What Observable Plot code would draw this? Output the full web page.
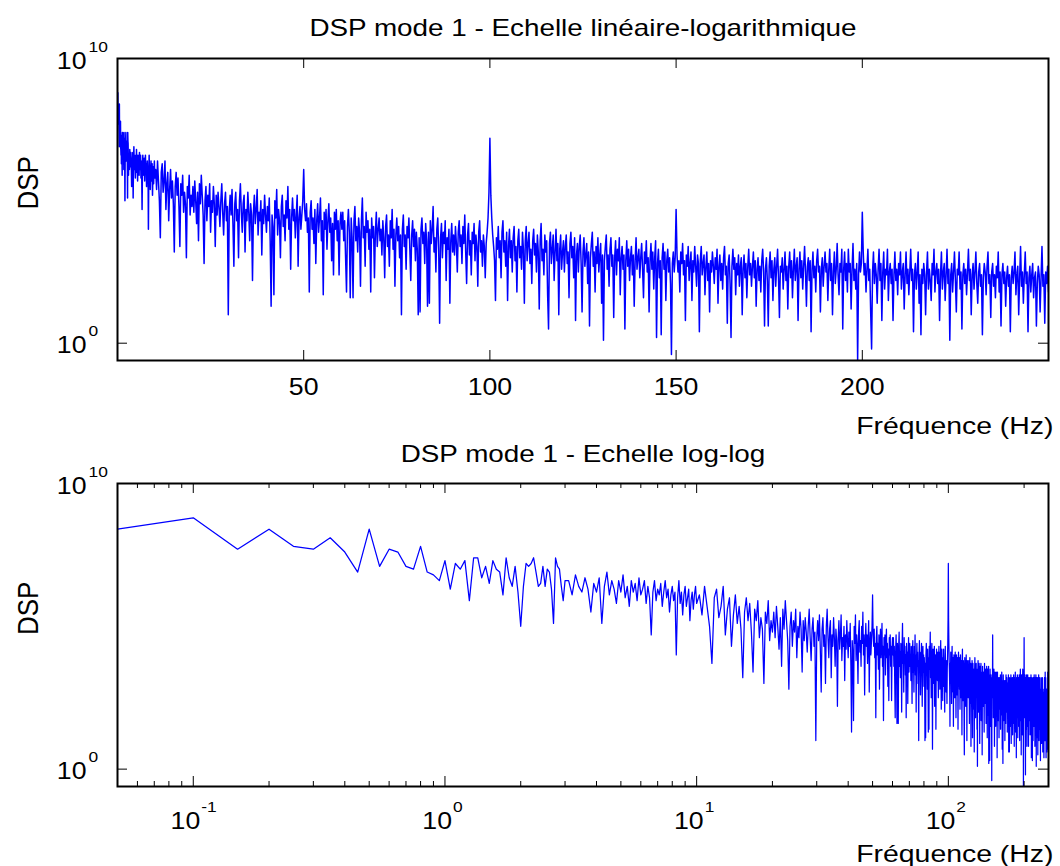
<!DOCTYPE html>
<html>
<head>
<meta charset="utf-8">
<script src="https://cdn.jsdelivr.net/npm/d3@7"></script>
<script src="https://cdn.jsdelivr.net/npm/@observablehq/plot@0.6"></script>
<style>
  html, body { margin: 0; padding: 0; background: #fff; }
  #wrap { width: 1060px; height: 866px; overflow: hidden; }
  #wrap svg { display: block; }
</style>
</head>
<body>
<div id="wrap"></div>
<script>
// ---------------- DATA ----------------
// DSP values are stored as 10*log10(DSP) (tenths of a decade).
// Segment A: 0.05 .. 3.00 Hz, step 0.05 Hz
const segA_f0 = 0.05, segA_df = 0.05;
const segA_dsp = [
  84, 88, 77, 84, 78, 77, 81, 76, 69, 84, 71, 77, 76, 71, 70, 78, 69, 68, 66, 73,
  63, 72, 70, 73, 59, 74, 74, 67, 71, 65, 73, 70, 69, 61, 74, 67, 64, 71, 62, 50,
  64, 72, 71, 72, 74, 69, 64, 65, 71, 64, 70, 69, 63, 51, 74, 71, 70, 64, 59, 66
];
// Segment B: 3.1 .. 10.0 Hz, step 0.1 Hz
const segB_f0 = 3.1, segB_df = 0.1;
const segB_dsp = [
  66, 61, 68, 64, 62, 67, 63, 55, 65, 62, 67, 51, 64, 69, 61, 66, 63, 58, 66, 62,
  68, 60, 64, 57, 66, 62, 65, 59, 67, 61, 63, 66, 58, 64, 60, 47, 62, 66, 59, 63,
  61, 65, 57, 62, 66, 60, 63, 55, 61, 64, 59, 62, 40, 60, 66, 58, 62, 54, 61, 64,
  57, 60, 63, 52, 59, 62, 56, 61, 64, 58
];
// Segment C: 10.25 .. 250 Hz, step 0.25 Hz (one row = 10 Hz)
const segC_f0 = 10.25, segC_df = 0.25;
const segC_dsp = [
  61,54,64,57,50,37,60,63,53,57,64,47,56,60,43,54,61,51,57,49,32,55,60,52,58,48,34,56,52,59,46,53,49,30,55,51,59,45,52,48,
  55,46,57,50,42,53,36,56,49,59,52,45,28,50,55,43,52,48,56,39,50,46,55,49,34,52,45,53,48,41,50,56,46,38,49,53,43,48,10,46,
  52,45,54,42,27,49,53,43,47,30,50,56,46,39,49,52,32,47,43,53,46,36,49,45,22,46,52,42,47,54,38,46,43,50,31,47,42,52,45,39,
  48,43,51,36,13,45,41,17,50,44,54,38,47,43,30,48,52,41,45,36,50,44,55,40,47,26,44,51,43,47,37,45,52,27,44,48,40,45,50,61,
  47,43,49,39,44,18,46,50,40,44,35,47,28,43,49,39,44,51,36,43,17,46,40,47,33,43,49,39,44,29,42,24,46,40,47,36,43,24,42,46,
  40,46,36,43,30,18,41,47,39,16,44,37,16,43,48,36,41,32,44,39,20,43,51,37,41,27,46,39,43,33,40,18,44,37,41,23,39,46,34,40,
  44,36,40,31,43,37,23,41,45,34,38,27,43,37,47,33,40,20,38,44,36,41,30,38,10,40,45,34,38,26,41,37,44,33,22,38,43,34,40,29,
  39,33,10,37,11,40,44,35,39,28,42,36,13,39,14,43,35,40,48,32,37,25,40,44,33,7,37,42,30,39,35,43,22,37,33,40,14,36,42,32,
  38,31,41,35,25,39,43,34,38,28,41,35,45,32,21,38,42,31,36,24,39,35,42,29,38,34,20,39,43,32,36,27,38,34,23,35,39,44,53,72,
  52,44,38,34,29,15,37,33,41,30,36,23,39,43,32,36,27,39,15,34,40,30,36,25,37,41,29,34,18,36,40,30,34,26,39,33,14,36,41,29,
  35,39,28,33,21,36,40,31,35,25,38,32,12,36,42,29,33,24,38,32,36,17,5,35,39,28,33,38,22,32,40,29,35,10,33,38,26,32,36,25,
  34,38,28,32,16,35,39,30,34,23,37,8,31,35,25,34,38,28,11,32,37,27,31,35,21,32,6,30,35,39,27,32,18,34,28,37,25,31,35,14,
  31,1,29,34,38,26,31,20,33,37,27,31,9,30,36,24,33,29,37,17,30,34,26,31,5,29,36,27,33,22,30,34,24,31,13,29,37,26,30,33,
  23,30,35,26,16,32,28,36,25,30,11,29,35,26,32,19,30,36,2,28,33,23,29,3,30,35,26,32,15,29,33,25,30,21,-4,28,32,25,30,47,
  31,25,29,18,32,28,35,24,29,8,31,27,34,22,28,32,15,29,25,34,27,20,31,28,4,29,34,24,28,31,17,27,32,22,28,11,29,25,32,27,
  21,30,26,33,14,27,31,22,28,19,30,34,24,27,7,28,31,21,2,27,33,26,30,17,28,24,31,20,27,30,10,26,31,23,28,16,27,33,24,28,
  20,27,32,23,29,13,26,30,22,27,18,29,33,25,6,26,30,22,6,27,32,23,29,15,26,30,20,27,33,23,9,27,25,30,19,26,32,22,27,12,
  27,32,23,29,16,26,33,22,27,30,8,26,32,23,29,19,27,34,25,13,27,30,22,29,4,26,32,23,27,18,29,33,25,27,11,26,30,20,27,32,
  25,28,15,26,33,22,28,10,25,32,21,26,35,24,17,28,25,33,5,26,32,22,28,18,33,25,28,12,26,35,22,26,19,28,-6,24,32,25,28,46,
  32,24,28,18,26,33,22,26,11,-2,25,32,21,28,24,14,26,33,22,28,8,25,32,19,26,24,33,15,25,28,21,26,8,24,32,22,26,17,28,24,
  32,19,25,28,12,24,32,21,26,17,25,33,22,26,4,24,28,19,25,32,14,24,3,26,21,28,24,10,25,32,19,26,22,15,28,24,33,18,25,28,
  21,26,8,24,32,19,25,28,15,24,33,21,26,1,24,28,18,25,32,22,11,26,24,32,19,25,5,24,28,21,26,17,25,33,22,26,10,24,28,19,
  25,32,21,14,25,28,20,24,3,23,28,25,17,27,32,21,24,9,25,28,20,24,16,27,23,32,18,25,6,24,28,21,25,13,23,27,20,24,4,23,
  27,21,25,32,17,24,27,10,23,34,20,25,14,24,32,21,25,4,23,27,18,24,28,16,23,25,6,21,27,24,11,23,34,20,24,7,25,21,27,18
];

// Axes / ticks / texts
const title1 = "DSP mode 1 - Echelle linéaire-logarithmique";
const title2 = "DSP mode 1 - Echelle log-log";
const xLabel = "Fréquence (Hz)";
const yLabel = "DSP";
const linXTicks = [50, 100, 150, 200];
const logXTickExps = [-1, 0, 1, 2];
const logXMinorTicks = [0.06, 0.07, 0.08, 0.09, 0.2, 0.3, 0.4, 0.5, 0.6, 0.7, 0.8, 0.9,
  2, 3, 4, 5, 6, 7, 8, 9, 20, 30, 40, 50, 60, 70, 80, 90, 200];
const yTickExps = [0, 10];
const yMin = 0.2466, yMax = 1e10;

// ---------------- BUILD TABLE ----------------
const data = [];
function addSeg(f0, df, arr) {
  arr.forEach((v, i) => data.push({f: f0 + i * df, dsp: Math.pow(10, v / 10)}));
}
addSeg(segA_f0, segA_df, segA_dsp);
addSeg(segB_f0, segB_df, segB_dsp);
addSeg(segC_f0, segC_df, segC_dsp);

const FONT = "'Liberation Sans', Arial, Helvetica, sans-serif";
const W = 1060, ML = 117, MR = 12;
const FW = W - ML - MR;
const BLUE = "#0000ff";

function yTickMarks(fh) {
  const yt = yTickExps.map(e => Math.pow(10, e));
  return [
    Plot.tickY(yt, {y: d => d, insetRight: FW - 10, stroke: "black", strokeWidth: 1}),
    Plot.tickY(yt, {y: d => d, insetLeft: FW - 10, stroke: "black", strokeWidth: 1}),
    Plot.text(yTickExps, {y: e => Math.pow(10, e), text: () => "10", frameAnchor: "left", dx: -31, dy: 10,
      textAnchor: "end", lineAnchor: "bottom", fontSize: 23, fontFamily: FONT, fill: "black"}),
    Plot.text(yTickExps, {y: e => Math.pow(10, e), text: e => String(e), frameAnchor: "left", dx: -29, dy: -7,
      textAnchor: "start", lineAnchor: "bottom", fontSize: 15, fontFamily: FONT, fill: "black"})
  ];
}

function labelMarks(title, titleDy, xlabDy) {
  return [
    Plot.text([title], {text: d => d, frameAnchor: "top", dy: titleDy, lineAnchor: "bottom",
      fontSize: 24, fontFamily: FONT, fill: "black"}),
    Plot.text([xLabel], {text: d => d, frameAnchor: "bottom-right", dx: 5, dy: xlabDy, textAnchor: "end",
      lineAnchor: "bottom", fontSize: 24.5, fontFamily: FONT, fill: "black"}),
    Plot.text([yLabel], {text: d => d, frameAnchor: "left", dx: -81, rotate: -90, lineAnchor: "bottom",
      fontSize: 26, fontFamily: FONT, fill: "black"})
  ];
}

// ---------- Panel 1 : linear x, log y ----------
const H1 = 440, MT1 = 58, MB1 = 80, FH1 = H1 - MT1 - MB1;
const chart1 = Plot.plot({
  width: W, height: H1,
  marginTop: MT1, marginBottom: MB1, marginLeft: ML, marginRight: MR,
  style: {fontFamily: FONT, background: "white", color: "black", overflow: "visible"},
  x: {type: "linear", domain: [0, 250], axis: null},
  y: {type: "log", domain: [yMin, yMax], axis: null},
  marks: [
    Plot.line(data, {x: "f", y: "dsp", stroke: BLUE, strokeWidth: 1.5, clip: true}),
    Plot.frame({stroke: "black", strokeWidth: 2}),
    Plot.tickX(linXTicks, {x: d => d, insetTop: FH1 - 10, stroke: "black", strokeWidth: 1}),
    Plot.tickX(linXTicks, {x: d => d, insetBottom: FH1 - 10, stroke: "black", strokeWidth: 1}),
    Plot.text(linXTicks, {x: d => d, text: d => String(d), frameAnchor: "bottom", dy: 34, lineAnchor: "bottom",
      fontSize: 23, fontFamily: FONT, fill: "black"}),
    ...yTickMarks(FH1),
    ...labelMarks(title1, -23, 73)
  ]
});

// ---------- Panel 2 : log x, log y ----------
const H2 = 426, MT2 = 43, MB2 = 80, FH2 = H2 - MT2 - MB2;
const majorX = logXTickExps.map(e => Math.pow(10, e));
const chart2 = Plot.plot({
  width: W, height: H2,
  marginTop: MT2, marginBottom: MB2, marginLeft: ML, marginRight: MR,
  style: {fontFamily: FONT, background: "white", color: "black", overflow: "visible"},
  x: {type: "log", domain: [0.05, 250], axis: null},
  y: {type: "log", domain: [yMin, yMax], axis: null},
  marks: [
    Plot.line(data, {x: "f", y: "dsp", stroke: BLUE, strokeWidth: 1.25, clip: true}),
    Plot.frame({stroke: "black", strokeWidth: 2}),
    Plot.tickX(majorX, {x: d => d, insetTop: FH2 - 10, stroke: "black", strokeWidth: 1}),
    Plot.tickX(majorX, {x: d => d, insetBottom: FH2 - 10, stroke: "black", strokeWidth: 1}),
    Plot.tickX(logXMinorTicks, {x: d => d, insetTop: FH2 - 5, stroke: "black", strokeWidth: 1}),
    Plot.tickX(logXMinorTicks, {x: d => d, insetBottom: FH2 - 5, stroke: "black", strokeWidth: 1}),
    Plot.text(logXTickExps, {x: e => Math.pow(10, e), text: () => "10", frameAnchor: "bottom", dx: 7, dy: 42,
      textAnchor: "end", lineAnchor: "bottom", fontSize: 23, fontFamily: FONT, fill: "black"}),
    Plot.text(logXTickExps, {x: e => Math.pow(10, e), text: e => String(e), frameAnchor: "bottom", dx: 8, dy: 25,
      textAnchor: "start", lineAnchor: "bottom", fontSize: 15, fontFamily: FONT, fill: "black"}),
    ...yTickMarks(FH2),
    ...labelMarks(title2, -21.5, 75)
  ]
});

const wrap = document.getElementById("wrap");
wrap.appendChild(chart1);
wrap.appendChild(chart2);

// The reference's lettering is horizontally widened (~1.16x): stretch every text
// horizontally about its anchor point.
function stretchTexts(svg, sx) {
  svg.querySelectorAll("text").forEach(t => {
    let bb;
    try { bb = t.getBBox(); } catch (e) { return; }
    if (!bb || bb.width === 0) return;
    const anchor = getComputedStyle(t).textAnchor;
    const ax = anchor === "end" ? bb.x + bb.width : anchor === "middle" ? bb.x + bb.width / 2 : bb.x;
    const ay = bb.y + bb.height / 2;
    let px = ax;
    const tl = t.transform && t.transform.baseVal;
    const m = tl && tl.numberOfItems ? tl.consolidate() : null;
    if (m) { const M = m.matrix; px = M.a * ax + M.c * ay + M.e; }
    const prev = t.getAttribute("transform") || "";
    t.setAttribute("transform", `translate(${px},0) scale(${sx},1) translate(${-px},0) ${prev}`);
  });
}
stretchTexts(chart1, 1.16);
stretchTexts(chart2, 1.16);
</script>
</body>
</html>
